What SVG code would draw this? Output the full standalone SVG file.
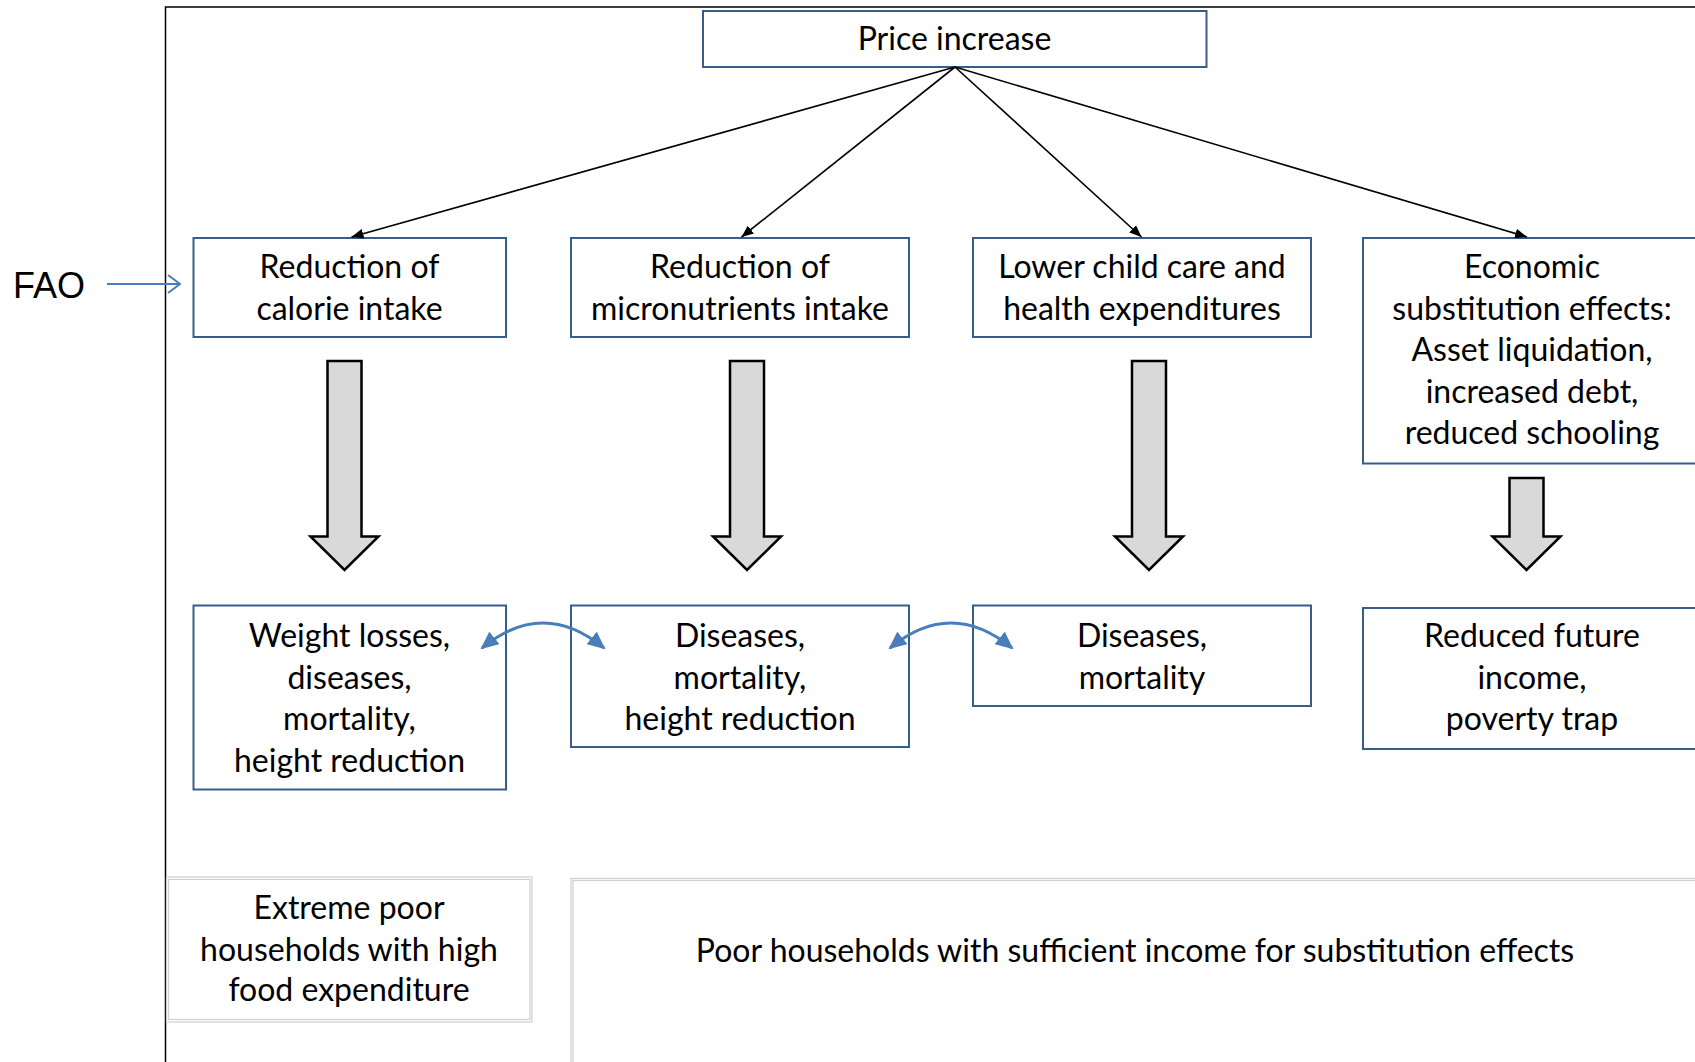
<svg xmlns="http://www.w3.org/2000/svg" width="1695" height="1062" viewBox="0 0 1695 1062">
<defs>
<style>
.box{fill:#fff;stroke:#385d8a;stroke-width:2}
.t{font-family:Lato,"Open Sans","Liberation Sans",sans-serif;font-size:32px;fill:#000;text-anchor:middle}
.con{stroke:#000;stroke-width:1.6;fill:none}
.blk{fill:#d9d9d9;stroke:#000;stroke-width:2.5;stroke-linejoin:miter}
.curv{stroke:#4a7ebb;stroke-width:3;fill:none}
.grp{fill:#fff;stroke:#cfcfcf;stroke-width:1.2}
</style>
<marker id="ah" viewBox="0 0 12 10" refX="12" refY="5" markerWidth="12" markerHeight="10" markerUnits="userSpaceOnUse" orient="auto">
<path d="M0,0 L12,5 L0,10 Z" fill="#000"/>
</marker>
<marker id="bh" viewBox="0 0 18 16" refX="16" refY="8" markerWidth="18" markerHeight="16" markerUnits="userSpaceOnUse" orient="auto-start-reverse">
<path d="M0,0 L18,8 L0,16 Z" fill="#4a7ebb"/>
</marker>
<marker id="fh" viewBox="0 0 14 20" refX="13" refY="10" markerWidth="14" markerHeight="20" markerUnits="userSpaceOnUse" orient="auto">
<path d="M1,1 L13,10 L1,19" fill="none" stroke="#4a7ebb" stroke-width="2"/>
</marker>
</defs>
<rect width="1695" height="1062" fill="#fff"/>
<rect id="frame" x="165.5" y="7" width="1560" height="1100" fill="none" stroke="#000" stroke-width="1.5"/>

<g id="fao">
<text x="13" y="298" style="font-family:'Liberation Sans',Arial,sans-serif;font-size:36px;fill:#000">FAO</text>
</g>

<g id="group-extreme">
<rect class="grp" x="166.5" y="877" width="365.5" height="145"/>
<rect class="grp" x="168.5" y="879.5" width="361.5" height="140"/>
<text class="t" x="349" y="919">Extreme poor</text>
<text class="t" x="349" y="960.5">households with high</text>
<text class="t" x="349" y="1001">food expenditure</text>
</g>
<g id="group-poor">
<rect class="grp" x="571" y="878.5" width="1200" height="250"/>
<rect class="grp" x="573" y="880.5" width="1200" height="250"/>
<text class="t" x="1135" y="962">Poor households with sufficient income for substitution effects</text>
</g>

<g id="price">
<rect class="box" x="703" y="11" width="503.5" height="56"/>
<text class="t" x="954.5" y="50">Price increase</text>
</g>

<g id="calorie">
<rect class="box" x="193.5" y="238" width="312.5" height="99"/>
<text class="t" x="349.5" y="278">Reduction of</text>
<text class="t" x="349.5" y="320">calorie intake</text>
</g>
<g id="micro">
<rect class="box" x="571" y="238" width="338" height="99"/>
<text class="t" x="740" y="278">Reduction of</text>
<text class="t" x="740" y="320">micronutrients intake</text>
</g>
<g id="childcare">
<rect class="box" x="973" y="238" width="338" height="99"/>
<text class="t" x="1142" y="278">Lower child care and</text>
<text class="t" x="1142" y="320">health expenditures</text>
</g>
<g id="economic">
<rect class="box" x="1363" y="238" width="340" height="225.5"/>
<text class="t" x="1532" y="278">Economic</text>
<text class="t" x="1532" y="319.5">substitution effects:</text>
<text class="t" x="1532" y="361">Asset liquidation,</text>
<text class="t" x="1532" y="402.5">increased debt,</text>
<text class="t" x="1532" y="444">reduced schooling</text>
</g>

<g id="weight">
<rect class="box" x="193.5" y="605.5" width="312.5" height="184"/>
<text class="t" x="349.5" y="647">Weight losses,</text>
<text class="t" x="349.5" y="688.5">diseases,</text>
<text class="t" x="349.5" y="730">mortality,</text>
<text class="t" x="349.5" y="771.5">height reduction</text>
</g>
<g id="diseases1">
<rect class="box" x="571" y="605.5" width="338" height="141.5"/>
<text class="t" x="740" y="647">Diseases,</text>
<text class="t" x="740" y="688.5">mortality,</text>
<text class="t" x="740" y="730">height reduction</text>
</g>
<g id="diseases2">
<rect class="box" x="973" y="605.5" width="338" height="100.5"/>
<text class="t" x="1142" y="647">Diseases,</text>
<text class="t" x="1142" y="688.5">mortality</text>
</g>
<g id="future">
<rect class="box" x="1363" y="608" width="340" height="141"/>
<text class="t" x="1532" y="647">Reduced future</text>
<text class="t" x="1532" y="688.5">income,</text>
<text class="t" x="1532" y="730">poverty trap</text>
</g>

<g id="connectors">
<line class="con" x1="955" y1="67" x2="351.5" y2="237" marker-end="url(#ah)"/>
<line class="con" x1="955" y1="67" x2="741.5" y2="237" marker-end="url(#ah)"/>
<line class="con" x1="955" y1="67" x2="1141.5" y2="237" marker-end="url(#ah)"/>
<line class="con" x1="955" y1="67" x2="1527" y2="237" marker-end="url(#ah)"/>
<line x1="107" y1="284" x2="180" y2="284" stroke="#4a7ebb" stroke-width="2" marker-end="url(#fh)"/>
<path class="blk" d="M327.5,361 H361.5 V536.5 H378.5 L344.5,570 L310.5,536.5 H327.5 Z"/>
<path class="blk" d="M730,361 H764 V536.5 H781 L747,570 L713,536.5 H730 Z"/>
<path class="blk" d="M1132,361 H1166 V536.5 H1183 L1149,570 L1115,536.5 H1132 Z"/>
<path class="blk" d="M1509.5,478 H1543.5 V536.5 H1560.5 L1526.5,570 L1492.5,536.5 H1509.5 Z"/>
<path class="curv" d="M482,648 Q543,598 604,648" marker-start="url(#bh)" marker-end="url(#bh)"/>
<path class="curv" d="M890,648 Q951,598 1012,648" marker-start="url(#bh)" marker-end="url(#bh)"/>
</g>
</svg>
